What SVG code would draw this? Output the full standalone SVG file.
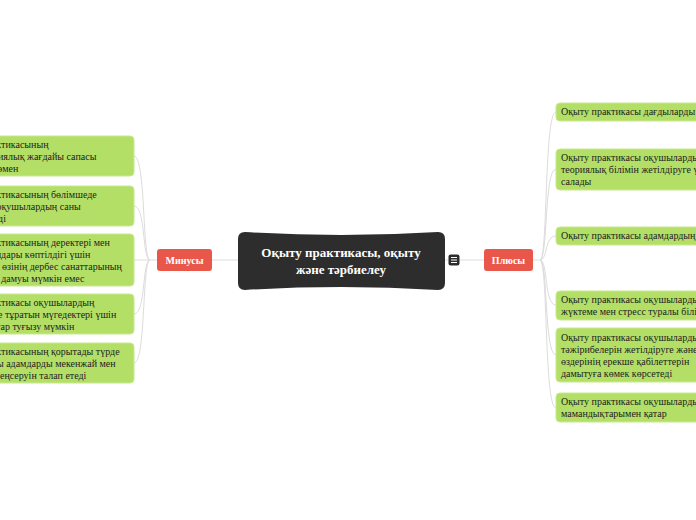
<svg xmlns="http://www.w3.org/2000/svg" width="696" height="520" viewBox="0 0 696 520">
<style>
.bg{fill:#ffffff}
.leaf{fill:#b3df66;stroke:#c8e890;stroke-width:1}
.lt{font-family:"Liberation Serif","DejaVu Serif",serif;font-size:10px;fill:#222}
.main{fill:#2d2d2d}
.mt{font-family:"Liberation Serif","DejaVu Serif",serif;font-size:13px;font-weight:bold;fill:#fff;text-anchor:middle}
.br{fill:#e9574a}
.bt{font-family:"Liberation Serif","DejaVu Serif",serif;font-size:10px;font-weight:bold;fill:#fff;text-anchor:middle}
.cn{fill:none;stroke:#dcdcdc;stroke-width:1}
</style>
<rect class="bg" x="0" y="0" width="696" height="520"/>
<g id="connectors">
<path class="cn" d="M212,260 L238,260"/>
<path class="cn" d="M445,260 L449,260"/>
<path class="cn" d="M459,260 L484,260"/>
<path class="cn" d="M157,260 L150,260"/>
<path class="cn" d="M150,260 C142,260 146,156 134,156"/>
<path class="cn" d="M150,260 C142,260 146,206 134,206"/>
<path class="cn" d="M150,260 L134,260"/>
<path class="cn" d="M150,260 C142,260 146,314 134,314"/>
<path class="cn" d="M150,260 C142,260 146,363 134,363"/>
<path class="cn" d="M533,260 L540,260"/>
<path class="cn" d="M540,260 C548,260 544,112 556,112"/>
<path class="cn" d="M540,260 C548,260 544,169 556,169"/>
<path class="cn" d="M540,260 C548,260 544,236 556,236"/>
<path class="cn" d="M540,260 C548,260 544,305 556,305"/>
<path class="cn" d="M540,260 C548,260 544,355 556,355"/>
<path class="cn" d="M540,260 C548,260 544,408 556,408"/>
</g>
<g id="center">
<path class="main" d="M238,239 Q238,232 245,232 Q341,238 438,232 Q445,232 445,239 L445,283 Q445,290 438,290 Q341,284 245,290 Q238,290 238,283 Z"/>
<text class="mt" x="341" y="257">Оқыту практикасы, оқыту</text>
<text class="mt" x="341" y="274">және тәрбиелеу</text>
</g>
<g id="menu-icon">
<rect x="448.5" y="254.5" width="11" height="11" rx="2" fill="#2d2d2d"/>
<path d="M451,257.5 H457 M451,260 H457 M451,262.5 H457" stroke="#fff" stroke-width="1.1"/>
</g>
<g id="minusy">
<rect class="br" x="157" y="249" width="55" height="22" rx="3"/>
<text class="bt" x="184.5" y="264">Минусы</text>
</g>
<g id="plusy">
<rect class="br" x="484" y="249" width="49" height="22" rx="3"/>
<text class="bt" x="508.5" y="264">Плюсы</text>
</g>
<g id="minus-1">
<rect class="leaf" x="-60" y="136" width="194" height="40" rx="4"/>
<text class="lt" x="-49" y="148">Оқыту практикасының</text>
<text class="lt" x="-40" y="160">технологиялық жағдайы сапасы</text>
<text class="lt" x="-41" y="172">деңгейі төмен</text>
</g>
<g id="minus-2">
<rect class="leaf" x="-60" y="186" width="194" height="40" rx="4"/>
<text class="lt" x="-49" y="198">Оқыту практикасының бөлімшеде</text>
<text class="lt" x="-41" y="210">тұратын оқушылардың саны</text>
<text class="lt" x="-53" y="222">азайып келеді</text>
</g>
<g id="minus-3">
<rect class="leaf" x="-60" y="234" width="194" height="52" rx="4"/>
<text class="lt" x="-49" y="246">Оқыту практикасының деректері мен</text>
<text class="lt" x="-38" y="258">материалдары көптілдігі үшін</text>
<text class="lt" x="-41" y="270">әр пәннің өзінің дербес санаттарының</text>
<text class="lt" x="-36" y="282">тұрақты дамуы мүмкін емес</text>
</g>
<g id="minus-4">
<rect class="leaf" x="-60" y="294" width="194" height="40" rx="4"/>
<text class="lt" x="-49" y="306">Оқыту практикасы оқушылардың</text>
<text class="lt" x="-36" y="318">мектепте тұратын мүгедектері үшін</text>
<text class="lt" x="-43" y="330">қиындықтар туғызу мүмкін</text>
</g>
<g id="minus-5">
<rect class="leaf" x="-60" y="343" width="194" height="40" rx="4"/>
<text class="lt" x="-49" y="355">Оқыту практикасының қорытады түрде</text>
<text class="lt" x="-49" y="367">басқа жасты адамдарды мекенжай мен</text>
<text class="lt" x="-41" y="379">кедергіні еңсеруін талап етеді</text>
</g>
<g id="plus-1">
<rect class="leaf" x="556" y="103" width="200" height="18" rx="4"/>
<text class="lt" x="561" y="115">Оқыту практикасы дағдыларды дамытады</text>
</g>
<g id="plus-2">
<rect class="leaf" x="556" y="149" width="200" height="41" rx="4"/>
<text class="lt" x="561" y="161">Оқыту практикасы оқушылардың</text>
<text class="lt" x="561" y="173">теориялық білімін жетілдіруге үлес</text>
<text class="lt" x="561" y="185">салады</text>
</g>
<g id="plus-3">
<rect class="leaf" x="556" y="227" width="200" height="18" rx="4"/>
<text class="lt" x="561" y="239">Оқыту практикасы адамдардың</text>
</g>
<g id="plus-4">
<rect class="leaf" x="556" y="291" width="200" height="29" rx="4"/>
<text class="lt" x="561" y="303">Оқыту практикасы оқушылардың</text>
<text class="lt" x="561" y="315">жүктеме мен стресс туралы білімін</text>
</g>
<g id="plus-5">
<rect class="leaf" x="556" y="328" width="200" height="54" rx="4"/>
<text class="lt" x="561" y="341">Оқыту практикасы оқушылардың</text>
<text class="lt" x="561" y="353">тәжірибелерін жетілдіруге және</text>
<text class="lt" x="561" y="365">өздерінің ерекше қабілеттерін</text>
<text class="lt" x="561" y="377">дамытуға көмек көрсетеді</text>
</g>
<g id="plus-6">
<rect class="leaf" x="556" y="393" width="200" height="29" rx="4"/>
<text class="lt" x="561" y="405">Оқыту практикасы оқушылардың</text>
<text class="lt" x="561" y="417">мамандықтарымен қатар</text>
</g>
</svg>
